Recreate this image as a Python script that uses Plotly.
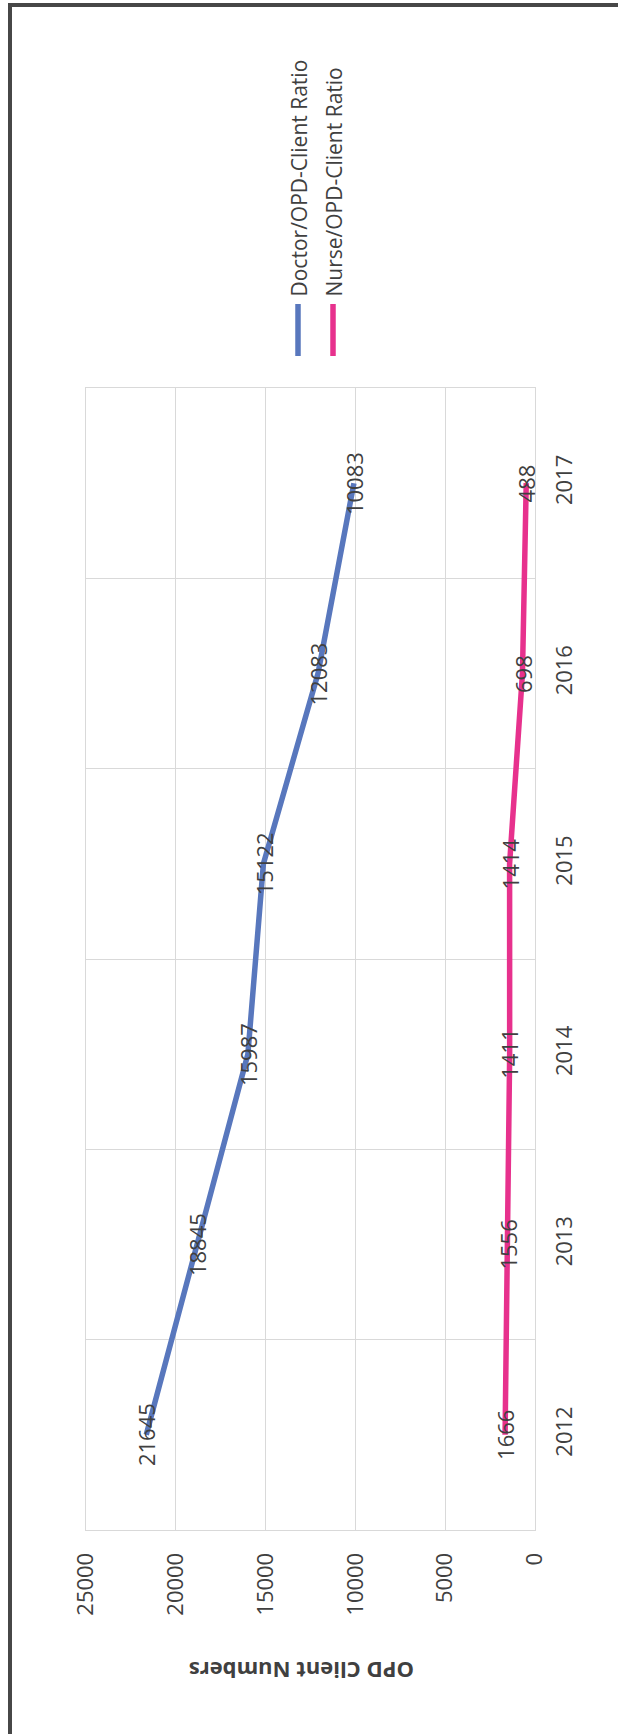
import plotly.graph_objects as go

years = ["2012", "2013", "2014", "2015", "2016", "2017"]
doctor = [21645, 18845, 15987, 15122, 12083, 10083]
nurse = [1666, 1556, 1411, 1414, 698, 488]
series_names = ["Doctor/OPD-Client Ratio", "Nurse/OPD-Client Ratio"]
colors = ["#5877BD", "#E7318D"]
value_ticks = [0, 5000, 10000, 15000, 20000, 25000]

W, H = 618, 1734
L, R, T, B = 86, 83, 388, 204
PW, PH = W - L - R, H - T - B
FONT = "Open Sans"
TXT = "#404040"
GRID = "#d9d9d9"


def px(x):
    return (x - L) / PW


def py(y):
    return (H - B - y) / PH


fig = go.Figure()
for name, vals, col in zip(series_names, [doctor, nurse], colors):
    fig.add_trace(go.Scatter(x=vals, y=years, mode="lines", name=name,
                             line=dict(color=col, width=5.5), showlegend=False))
    for i, v in enumerate(vals):
        fig.add_annotation(x=v, y=i, xref="x", yref="y", text=str(v),
                           textangle=-90, showarrow=False,
                           font=dict(family=FONT, size=22, color=TXT))

# legend (rotated)
leg_x = [298, 333]
for name, col, lx in zip(series_names, colors, leg_x):
    fig.add_shape(type="line", xref="paper", yref="paper",
                  x0=px(lx), x1=px(lx), y0=py(304), y1=py(356),
                  line=dict(color=col, width=5.5))
    fig.add_annotation(x=px(lx), y=py(299), xref="paper", yref="paper",
                       text=name, textangle=-90, showarrow=False,
                       xanchor="center", yanchor="bottom",
                       font=dict(family=FONT, size=21, color=TXT))

# axis title (upside down)
fig.add_annotation(x=px(302), y=py(1688), xref="paper", yref="paper",
                   text="<b>OPD Client Numbers</b>", textangle=180, showarrow=False,
                   font=dict(family=FONT, size=22, color=TXT))

# outer frame (top and left)
fig.add_shape(type="line", xref="paper", yref="paper",
              x0=px(8), x1=px(W), y0=py(5), y1=py(5),
              line=dict(color="#474747", width=4))
fig.add_shape(type="line", xref="paper", yref="paper",
              x0=px(10), x1=px(10), y0=py(3), y1=py(H),
              line=dict(color="#474747", width=4))

fig.update_layout(
    width=W, height=H,
    margin=dict(l=L, r=R, t=T, b=B, pad=0),
    paper_bgcolor="white", plot_bgcolor="white",
    font=dict(family=FONT, size=22, color=TXT),
    xaxis=dict(range=[25000, 0], tickvals=value_ticks,
               ticktext=[str(v) for v in value_ticks],
               tickangle=-90, showgrid=True, gridcolor=GRID, gridwidth=1,
               zeroline=False, showline=True, linecolor=GRID, mirror=True,
               ticks="", ticklabelstandoff=13,
               tickfont=dict(family=FONT, size=22, color=TXT)),
    yaxis=dict(type="category", categoryorder="array", categoryarray=years,
               range=[-0.5, 5.5], side="right", tickangle=-90,
               tickson="boundaries", showgrid=True, gridcolor=GRID, gridwidth=1,
               showline=True, linecolor=GRID, mirror=True, ticks="",
               ticklabelstandoff=10,
               tickfont=dict(family=FONT, size=22, color=TXT)),
)

fig.write_html("out.html")
